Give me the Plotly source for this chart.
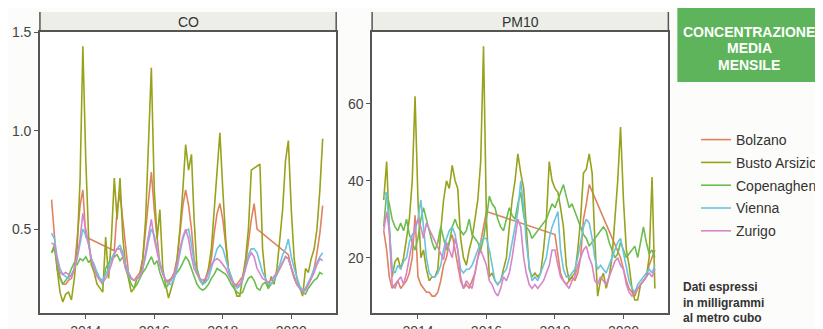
import pandas as pd
import plotly.graph_objects as go
from plotly.subplots import make_subplots

N = None
months = pd.date_range("2013-01-01", periods=96, freq="MS")

cities = ["Bolzano", "Busto Arsizio", "Copenaghen", "Vienna", "Zurigo"]
colors = ["#e0825f", "#98a21c", "#6cbd4e", "#6cc3de", "#d585c9"]

# ---- CO (monthly, 2013-2020) ----
co_bolzano = [
    0.65, 0.45, 0.30, 0.25, 0.22, 0.22, 0.24, 0.25, 0.30, 0.45, 0.62, 0.70,
    0.46, N, N, N, N, N, N, N, N, N, 0.39, 0.60,
    0.68, 0.55, 0.40, 0.28, 0.25, 0.24, 0.26, 0.28, 0.35, 0.50, 0.65, 0.79,
    0.60, 0.45, 0.32, 0.28, 0.24, 0.24, 0.25, 0.28, 0.35, 0.48, 0.62, 0.70,
    0.62, 0.50, 0.35, 0.28, 0.24, 0.22, 0.24, 0.28, 0.35, 0.48, 0.58, 0.63,
    0.55, 0.42, 0.30, 0.25, 0.22, 0.22, 0.24, 0.26, 0.32, 0.45, 0.55, 0.63,
    0.50, N, N, N, N, N, N, N, N, N, N, 0.37,
    0.30, 0.25, 0.22, 0.20, 0.18, 0.20, 0.22, 0.25, 0.30, 0.38, 0.48, 0.62,
]
co_busto = [
    0.38, 0.42, 0.30, 0.18, 0.13, 0.17, 0.18, 0.14, 0.25, 0.40, 0.75, 1.43,
    0.85, 0.45, 0.32, 0.28, 0.22, 0.20, 0.18, 0.46, 0.25, 0.45, 0.76, 0.55,
    0.76, 0.45, 0.32, 0.25, 0.18, 0.20, 0.25, 0.26, 0.35, 0.55, 0.90, 1.32,
    0.70, 0.45, 0.60, 0.30, 0.22, 0.15, 0.20, 0.25, 0.35, 0.50, 0.70, 0.93,
    0.80, 0.88, 0.55, 0.30, 0.25, 0.22, 0.25, 0.30, 0.40, 0.60, 0.80, 0.99,
    0.70, 0.45, 0.30, 0.25, 0.20, 0.16, 0.16, 0.25, 0.35, 0.50, 0.80, 0.81,
    0.82, 0.83, 0.40, 0.25, 0.20, 0.26, 0.22, 0.30, 0.45, 0.60, 0.85, 0.95,
    0.60, 0.35, 0.25, 0.20, 0.16, 0.30, 0.28, 0.35, 0.40, 0.50, 0.70, 0.96,
]
co_copenaghen = [
    0.38, 0.40, 0.33, 0.26, 0.22, 0.24, 0.26, 0.30, 0.33, 0.32, 0.35, 0.34,
    0.36, 0.33, 0.35, 0.30, 0.28, 0.24, 0.22, 0.30, 0.33, 0.34, 0.36, 0.37,
    0.34, 0.36, 0.30, 0.26, 0.22, 0.20, 0.22, 0.25, 0.28, 0.30, 0.33, 0.36,
    0.32, 0.34, 0.28, 0.24, 0.20, 0.22, 0.25, 0.26, 0.28, 0.30, 0.33, 0.36,
    0.34, 0.30, 0.26, 0.22, 0.20, 0.19, 0.20, 0.22, 0.25, 0.27, 0.30, 0.29,
    0.28, 0.27, 0.25, 0.22, 0.20, 0.18, 0.17, 0.18, 0.22, 0.25, 0.26, 0.24,
    0.20, 0.19, 0.22, 0.23, 0.20, 0.22, 0.24, 0.27, 0.30, 0.33, 0.36, 0.35,
    0.30, 0.26, 0.22, 0.20, 0.18, 0.17, 0.20, 0.22, 0.24, 0.25, 0.28, 0.27,
]
co_vienna = [
    0.48, 0.45, 0.36, 0.30, 0.27, 0.26, 0.25, 0.27, 0.30, 0.35, 0.42, 0.50,
    0.47, 0.42, 0.35, 0.32, 0.28, 0.25, 0.24, 0.27, 0.30, 0.35, 0.38, 0.40,
    0.42, 0.38, 0.32, 0.28, 0.25, 0.24, 0.25, 0.26, 0.30, 0.36, 0.44, 0.50,
    0.47, 0.40, 0.33, 0.28, 0.24, 0.22, 0.22, 0.25, 0.30, 0.38, 0.45, 0.49,
    0.50, 0.42, 0.33, 0.28, 0.24, 0.22, 0.23, 0.25, 0.30, 0.36, 0.40, 0.42,
    0.40, 0.35, 0.30, 0.26, 0.22, 0.20, 0.21, 0.24, 0.30, 0.37, 0.40, 0.40,
    0.38, 0.33, 0.28, 0.25, 0.22, 0.22, 0.24, 0.28, 0.32, 0.37, 0.40, 0.45,
    0.36, 0.30, 0.25, 0.21, 0.19, 0.20, 0.23, 0.26, 0.30, 0.33, 0.36, 0.38,
]
co_zurigo = [
    0.43, 0.42, 0.35, 0.28, 0.27, 0.28, 0.27, 0.26, 0.30, 0.36, 0.45, 0.58,
    0.50, 0.42, 0.35, 0.30, 0.26, 0.24, 0.23, 0.25, 0.28, 0.32, 0.37, 0.40,
    0.40, 0.36, 0.30, 0.27, 0.25, 0.24, 0.25, 0.26, 0.30, 0.38, 0.45, 0.55,
    0.45, 0.38, 0.32, 0.27, 0.24, 0.23, 0.24, 0.27, 0.32, 0.40, 0.46, 0.50,
    0.45, 0.36, 0.30, 0.27, 0.25, 0.24, 0.25, 0.28, 0.32, 0.34, 0.35, 0.34,
    0.32, 0.30, 0.27, 0.24, 0.22, 0.21, 0.22, 0.25, 0.30, 0.35, 0.38, 0.36,
    0.30, 0.27, 0.25, 0.24, 0.23, 0.24, 0.26, 0.28, 0.30, 0.33, 0.36, 0.35,
    0.30, 0.26, 0.22, 0.20, 0.18, 0.19, 0.22, 0.25, 0.28, 0.32, 0.35, 0.34,
]

# ---- PM10 (monthly, 2013-2020) ----
pm_bolzano = [
    27, 22, 15, 12, 13, 14, 12, 13, 14, 16, 20, 31,
    15, 13, 12, 11, 11, 10, 10, 11, 14, 18, 20, 24,
    26, 22, 18, 14, 12, 13, 12, 14, 16, 20, 24, 28,
    32, N, N, N, N, N, N, N, N, N, N, N,
    N, N, N, N, N, N, N, N, N, N, N, N,
    26, 20, 16, 14, 13, 14, 15, 14, 16, 20, 30, 34,
    39, N, N, N, N, N, N, N, N, N, N, 20,
    17, 14, 12, 11, 10, 12, 13, 14, 15, 18, 20, 22,
]
pm_busto = [
    35, 45, 28, 15, 19, 20, 17, 20, 25, 30, 40, 62,
    35, 20, 22, 17, 14, 15, 15, 17, 27, 35, 40, 38,
    44, 40, 38, 25, 20, 18, 22, 25, 30, 35, 45, 75,
    30, 15, 16, 14, 13, 14, 17, 20, 28, 35, 40, 47,
    42, 38, 28, 17, 15, 16, 15, 16, 22, 30, 45, 40,
    38, 37, 33, 28, 18, 14, 15, 16, 22, 30, 42, 43,
    47, 42, 25, 10, 14, 16, 12, 15, 20, 30, 40, 54,
    35, 22, 18, 12, 9, 9, 13, 14, 15, 20, 41, 12,
]
pm_copenaghen = [
    28, 37, 34, 30, 28, 27, 29, 27, 30, 26, 24, 22,
    25, 30, 33, 30, 27, 24, 22, 24, 28, 25, 22, 24,
    28, 30, 28, 27, 26, 27, 30, 26, 25, 24, 22, 25,
    30, 36, 34, 33, 30, 28, 27, 30, 33, 31, 30, 34,
    37, 31, 28, 27, 25, 26, 27, 28, 29, 30, 32, 34,
    33, 35, 37, 39, 36, 33, 34, 32, 30, 28, 26, 25,
    23, 24, 25, 26, 27, 28, 27, 24, 22, 20, 21, 24,
    22, 20, 21, 22, 23, 20, 24, 28, 24, 21, 22, 20,
]
pm_vienna = [
    36, 37, 28, 17, 16, 18, 17, 19, 20, 24, 26, 27,
    30, 35, 28, 20, 16, 15, 15, 16, 18, 22, 25, 27,
    28, 26, 22, 17, 16, 17, 17, 18, 20, 22, 24, 25,
    25, 22, 18, 14, 13, 14, 16, 17, 20, 24, 28, 32,
    40, 33, 24, 18, 14, 15, 14, 16, 18, 20, 25, 28,
    30, 32, 22, 17, 15, 15, 16, 17, 20, 24, 28, 30,
    29, 25, 20, 17, 18, 17, 16, 18, 20, 22, 24, 25,
    21, 18, 14, 12, 11, 13, 14, 15, 16, 17, 16, 18,
]
pm_zurigo = [
    27, 32, 27, 13, 12, 14, 15, 13, 16, 20, 24, 28,
    30, 28, 25, 29, N, N, N, N, N, 19.5, 24, 22,
    20, 25, 22, 15, 12, 14, 13, 12, 16, 20, 22, 20,
    18, 14, 13, 11, 10, 12, 15, 14, 16, 20, 25, 30,
    28, 20, 16, 13, 12, 13, 12, 13, 14, 16, 18, 22,
    22, 18, 15, 14, 13, 12, 14, 15, 18, 20, 22, 23,
    20, 18, 14, 13, 15, 14, 13, 15, 17, 19, 20, 18,
    17, 13, 11, 10, 11, 12, 13, 14, 15, 16, 15, 17,
]

panel_titles = ["CO", "PM10"]
co_series = [co_bolzano, co_busto, co_copenaghen, co_vienna, co_zurigo]
pm_series = [pm_bolzano, pm_busto, pm_copenaghen, pm_vienna, pm_zurigo]
co_ticks = [0.5, 1.0, 1.5]
pm_ticks = [20, 40, 60]
x_ticks = ["2014-01-01", "2016-01-01", "2018-01-01", "2020-01-01"]
x_tick_labels = ["2014", "2016", "2018", "2020"]

title_lines = ["CONCENTRAZIONE", "MEDIA", "MENSILE"]
note_text = "Dati espressi<br>in milligrammi<br>al metro cubo"

# page is drawn with an 8px body margin: size the figure so the page fits the window
OFF = 8
W, H = 823 - OFF, 329 - OFF
def px(x):
    return (x - OFF) / W
def py(y):
    return 1 - (y - OFF) / H

fig = make_subplots(rows=1, cols=2)
for i, c in enumerate(cities):
    fig.add_trace(go.Scatter(x=months, y=co_series[i], mode="lines", name=c,
                             line=dict(color=colors[i], width=1.6), connectgaps=True,
                             legendgroup=c, showlegend=True), row=1, col=1)
for i, c in enumerate(cities):
    fig.add_trace(go.Scatter(x=months, y=pm_series[i], mode="lines", name=c,
                             line=dict(color=colors[i], width=1.6), connectgaps=True,
                             legendgroup=c, showlegend=False), row=1, col=2)

axis_col = "#555555"
font_fam = "Liberation Sans, Arial, sans-serif"
xr = ["2012-08-30", "2021-04-24"]
common_x = dict(range=xr, tickvals=x_ticks, ticktext=x_tick_labels, ticks="outside",
                ticklen=4, tickcolor=axis_col, showline=True, linecolor=axis_col,
                linewidth=1.5, mirror=True, showgrid=False, zeroline=False, automargin=False,
                tickfont=dict(size=14, color="#444444", family=font_fam))
common_y = dict(ticks="outside", ticklen=4, tickcolor=axis_col, showline=True,
                linecolor=axis_col, linewidth=1.5, mirror=True, showgrid=False,
                zeroline=False, automargin=False,
                tickfont=dict(size=14, color="#444444", family=font_fam))

fig.update_layout(
    xaxis=dict(domain=[px(40), px(337)], **common_x),
    xaxis2=dict(domain=[px(373), px(670)], **common_x),
    yaxis=dict(domain=[py(313), py(32)], range=[0.074, 1.502], tickvals=co_ticks,
               ticktext=[f"{v:.1f}" for v in co_ticks], **common_y),
    yaxis2=dict(domain=[py(313), py(32)], range=[5.6, 78.7], tickvals=pm_ticks, **common_y),
)

shapes = []
annotations = []
for (x0, x1), t in zip([(40, 337), (373, 670)], panel_titles):
    shapes.append(dict(type="rect", xref="paper", yref="paper", x0=px(x0), x1=px(x1),
                       y0=py(32), y1=py(12), fillcolor="#eceee7", line=dict(width=0), layer="below"))
    for xx in (x0, x1):
        shapes.append(dict(type="line", xref="paper", yref="paper", x0=px(xx), x1=px(xx),
                           y0=py(32), y1=py(12), line=dict(color=axis_col, width=1.5)))
    annotations.append(dict(text=t, xref="paper", yref="paper", x=px((x0 + x1) / 2), y=py(22),
                            showarrow=False, xanchor="center", yanchor="middle",
                            font=dict(size=14, color="#333333", family=font_fam)))

shapes.append(dict(type="rect", xref="paper", yref="paper", x0=px(679), x1=1.0,
                   y0=py(82), y1=py(4), fillcolor="#5db45a", line=dict(width=0)))
for line, yy in zip(title_lines, [32, 48.5, 65]):
    annotations.append(dict(text="<b>" + line + "</b>", xref="paper", yref="paper",
                            x=px(751), y=py(yy), showarrow=False, xanchor="center",
                            yanchor="middle", font=dict(size=14, color="white", family=font_fam)))
annotations.append(dict(text="<b>" + note_text + "</b>", xref="paper", yref="paper",
                        x=px(683), y=py(302), showarrow=False, xanchor="left", yanchor="middle",
                        align="left", font=dict(size=12, color="#333333", family=font_fam)))

fig.update_layout(
    width=W, height=H, margin=dict(l=0, r=0, t=0, b=0),
    paper_bgcolor="#fcfcfa", plot_bgcolor="#ffffff",
    shapes=shapes, annotations=annotations,
    legend=dict(x=px(698), y=py(124), xanchor="left", yanchor="top",
                bgcolor="rgba(0,0,0,0)", tracegroupgap=1.6,
                font=dict(size=14, color="#333333", family=font_fam)),
)

fig.write_html("out.html")
